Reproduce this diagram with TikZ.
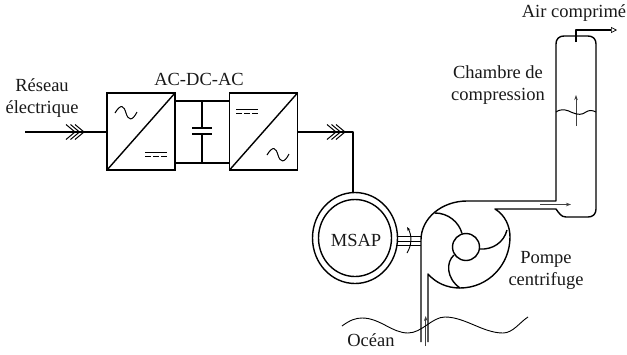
\documentclass[tikz,border=0pt]{standalone}
\usepackage{fontspec}
\setmainfont{Liberation Serif}
\usetikzlibrary{shapes.geometric,arrows.meta,calc}
\tikzset{
  x=1pt,y=-1pt,
  wire/.style={line width=1.4pt,black,line join=round},
  thin wire/.style={line width=0.9pt,black},
  conv/.style={draw,line width=1.4pt,minimum width=68pt,minimum height=77pt,inner sep=0pt,outer sep=0pt},
  motorring/.style={draw,ellipse,line width=1.4pt,inner sep=0pt,outer sep=0pt},
  lbl/.style={font=\fontsize{18.5}{22}\selectfont,align=center,inner sep=0pt,text=black!90},
  flow/.style={line width=0.7pt,black!75,-{Stealth[length=5pt,width=3.5pt]}},
}
\newcommand{\chevrons}[2]{%
  \foreach \d in {0,4.5,9}{\draw[line width=1pt] ($(#1,#2)+(\d-9,-7.5)$) -- ($(#1,#2)+(\d,0)$) -- ($(#1,#2)+(\d-9,7.5)$);}}
\newcommand{\acsym}[2]{\draw[line width=1pt] (#1,#2) .. controls (#1+6,#2-10) and (#1+9,#2-7) .. (#1+11,#2) .. controls (#1+13,#2+7) and (#1+17,#2+9) .. (#1+22,#2-1);}
\newcommand{\dcsym}[2]{\draw[line width=1pt] (#1,#2) -- (#1+22,#2);\draw[line width=1pt,dash pattern=on 6pt off 2pt] (#1,#2+4) -- (#1+22,#2+4);}
\begin{document}
\begin{tikzpicture}
\useasboundingbox (0,0) rectangle (627,354);
% converters
\node[conv] (c1) at (141,131.5) {};
\node[conv] (c2) at (263.5,131.5) {};
\draw[wire] (c1.south west) -- (c1.north east);
\draw[wire] (c2.south west) -- (c2.north east);
\acsym{115}{113}
\dcsym{145}{152}
\dcsym{236}{109}
\acsym{267}{155}
% dc link
\coordinate (ct) at (202,101);
\coordinate (cb) at (202,163);
\coordinate (pa) at (202,128);
\coordinate (pb) at (202,134);
\draw[wire] (c1.east |- ct) -- (c2.west |- ct);
\draw[wire] (c1.east |- cb) -- (c2.west |- cb);
\draw[wire] (ct) -- (pa) (pb) -- (cb);
\draw[wire] (192,128) -- (212,128) (192,134) -- (212,134);
% motor
\node[motorring,minimum width=85pt,minimum height=91pt] (m) at (355,238) {};
\node[motorring,minimum width=73pt,minimum height=77pt] (mi) at (355,238) {};
% grid lines
\coordinate (in) at (25,132);
\draw[wire] (in) -- (c1.west |- in);
\chevrons{75}{132}
\draw[wire] (c2.east |- in) -- (353,132) -- (m.north -| 353,0);
\chevrons{336}{132}
% shaft
\coordinate (s1) at (421,236);
\coordinate (s2) at (421,241);
\coordinate (s3) at (421,245);
\draw[line width=0.9pt] (397,236) -- (s1) (397,241) -- (s2) (397,245) -- (s3);
\draw[line width=0.9pt,-{Stealth[length=4pt,width=3pt]}] (407,253) .. controls (412,245) and (412,235) .. (407,227);
% pump body
\draw[wire] (421,342) -- (421,240) .. controls (421,218) and (442,201) .. (467,201) -- (556,201) -- (556,44) .. controls (556,39) and (559,36) .. (564,36) -- (588,36) .. controls (593,36) and (596,39) .. (596,44) -- (596,209) .. controls (596,214) and (593,217) .. (588,217) -- (566,217) .. controls (561,217) and (559,213) .. (556,209) -- (495,209) .. controls (505,215) and (510,226) .. (510,237) .. controls (510,265) and (488,288) .. (460,288) .. controls (447,288) and (436,283) .. (428,274) -- (428,342);
% hub and blades
\node[draw,circle,line width=1.4pt,minimum size=27pt,inner sep=0pt,outer sep=0pt] (hub) at (466,247) {};
\draw[wire] (435,213) .. controls (448,213) and (459,222) .. (462,233.5);
\draw[wire] (479.5,249) .. controls (493,250) and (504,242) .. (507,230);
\draw[wire] (454,255) .. controls (446,262) and (446,278) .. (460,288);
% pipe arrow & ocean
\draw[flow] (425.7,346) -- (425.7,316);
\draw[thin wire] (342,326) .. controls (350,320) and (356,318) .. (362,318) .. controls (380,318) and (392,333) .. (408,333) .. controls (422,333) and (432,317) .. (445,317) .. controls (465,317) and (483,333) .. (503,333) .. controls (513,333) and (520,322) .. (528,317);
% chamber details
\draw[flow] (540,204.5) -- (571,204.5);
\draw[flow] (576,126) -- (576,95);
\draw[line width=1pt] (556,112) .. controls (562,108) and (567,110) .. (572,112.5) .. controls (578,115) and (582,115) .. (586,112) .. controls (589,110) and (592,110) .. (596,112);
\draw[line width=1.2pt,line join=round,-{Triangle[open,length=6pt,width=6pt,line width=0.7pt]}] (576,42) -- (576,30) -- (617,30);
% labels
\node[lbl] (t1) at (42,98) {Réseau\\électrique};
\node[lbl] (t2) at (199,79) {AC-DC-AC};
\node[lbl] (t3) at (574,13) {Air comprimé};
\node[lbl] (t4) at (498,85) {Chambre de\\compression};
\node[lbl] (t5) at (546,270) {Pompe\\centrifuge};
\node[lbl] (t6) at (356,240) {MSAP};
\node[lbl] (t7) at (371,340) {Océan};
\end{tikzpicture}
\end{document}
